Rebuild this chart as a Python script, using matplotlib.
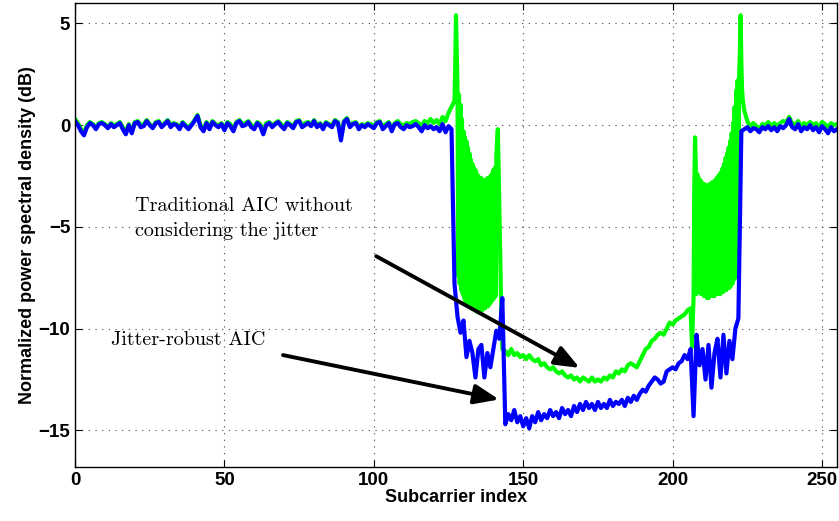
import numpy as np
import matplotlib.pyplot as plt

# blue curve: jitter-robust AIC, one value per subcarrier (0..255)
blue_left = [0.2, 0.0, -0.3, -0.5, -0.1, 0.1, 0.0, -0.2, 0.05, 0.1,
             0.0, -0.15, 0.05, -0.1, 0.0, 0.1, -0.2, -0.45, 0.0, -0.4,
             0.1, 0.15, -0.1, -0.05, 0.2, 0.0, -0.15, 0.1, 0.15, -0.1,
             0.05, 0.2, -0.1, 0.05, 0.0, -0.2, 0.1, -0.05, -0.2, 0.0,
             0.2, 0.45, -0.1, -0.3, 0.1, -0.2, 0.15, 0.0, -0.1, 0.05,
             -0.25, 0.1, -0.05, -0.3, 0.1, 0.2, -0.05, 0.0, 0.15, -0.1,
             -0.2, 0.1, -0.05, -0.45, 0.0, 0.1, -0.1, 0.05, 0.15, -0.05,
             -0.2, 0.1, 0.0, -0.15, 0.15, 0.2, -0.1, 0.0, 0.1, -0.05,
             0.2, -0.1, 0.05, -0.2, 0.1, 0.0, -0.1, 0.2, 0.1, -0.75,
             0.15, 0.3, -0.1, 0.05, 0.1, -0.2, 0.0, -0.1, 0.05, -0.05,
             -0.15, 0.1, 0.15, -0.2, -0.05, 0.1, -0.3, 0.05, 0.1, -0.1,
             -0.2, 0.0, -0.1, -0.05, 0.05, -0.1, -0.3, 0.0, -0.15, -0.05,
             -0.2, -0.1, -0.3, 0.05, -0.35, -0.05, -0.2]
blue_notch = [-7.8, -9.4, -10.2, -9.6, -11.4, -10.6, -11.2, -12.4, -11.0, -10.8,
              -12.4, -11.2, -11.9, -11.0, -10.1, -10.5, -8.5,
              -14.7, -14.2, -14.5, -14.0, -14.6, -14.3, -14.8, -14.4, -14.9, -14.3,
              -14.6, -14.1, -14.5, -14.2, -14.4, -14.0, -14.3, -14.1, -14.4, -13.9,
              -14.2, -14.0, -14.3, -13.8, -14.1, -13.7, -14.0, -13.6, -13.9, -13.7,
              -14.0,
              -13.6, -13.9, -13.7, -13.9, -13.5, -13.8, -13.6, -13.7, -13.5, -13.8,
              -13.4, -13.6, -13.3, -13.5, -13.2, -13.0, -13.1, -12.8, -12.6, -12.4,
              -12.5, -12.7, -12.6, -12.1, -12.0, -11.9, -12.0, -11.7, -11.6, -11.3,
              -11.5, -11.0,
              -14.3, -10.3, -11.8, -11.0, -12.5, -10.8, -12.9, -11.2, -10.5, -12.4,
              -10.3, -12.2, -10.6, -11.5, -10.0, -9.5, -0.3]
blue_right = [-0.2, -0.1, -0.3, -0.15, -0.2, -0.35, -0.1, -0.2, -0.05, -0.25,
              -0.1, -0.3, -0.05, -0.15, 0.0, 0.3, -0.1, -0.2, 0.05, -0.3,
              -0.1, -0.2, 0.0, -0.25, -0.1, -0.35, -0.05, -0.2, -0.4, -0.1,
              -0.3, -0.2]

# green curve: traditional AIC; the notch edges swing fast, sampled every quarter subcarrier
green_left = [0.3, 0.1, -0.2, -0.4, 0.0, 0.15, 0.05, -0.1, 0.1, 0.15,
              0.05, -0.1, 0.1, 0.0, 0.05, 0.15, -0.1, -0.35, 0.05, -0.3,
              0.15, 0.2, 0.0, 0.05, 0.25, 0.05, -0.1, 0.15, 0.2, -0.05,
              0.1, 0.25, 0.0, 0.1, 0.05, -0.1, 0.15, 0.0, -0.1, 0.05,
              0.25, 0.5, 0.0, -0.2, 0.15, -0.1, 0.2, 0.05, 0.0, 0.1,
              -0.15, 0.15, 0.05, -0.2, 0.15, 0.25, 0.05, 0.1, 0.2, 0.0,
              -0.1, 0.15, 0.05, -0.3, 0.1, 0.15, 0.0, 0.1, 0.2, 0.05,
              -0.1, 0.15, 0.05, -0.05, 0.2, 0.25, 0.0, 0.1, 0.15, 0.05,
              0.25, 0.0, 0.1, -0.1, 0.15, 0.05, 0.0, 0.25, 0.15, -0.6,
              0.2, 0.35, 0.0, 0.1, 0.15, -0.1, 0.05, 0.0, 0.1, 0.05,
              -0.05, 0.15, 0.2, -0.1, 0.05, 0.15, -0.15, 0.1, 0.2, 0.05,
              0.0, 0.1, 0.05, 0.15, 0.2, 0.1, -0.05, 0.2, 0.1, 0.3,
              0.1, 0.25, 0.05, 0.4, 0.2, 0.6, 0.9]
green_band1 = [1.2, 3.0, 5.4, 3.5, 1.9,
               -7.4, 1.5, -7.8, 1.0, -8.1, 0.3, -8.3, -0.3, -8.5, -0.6,
               -8.7, -0.8, -8.8, -1.1, -8.9, -1.4, -8.9, -1.7, -9.0, -1.9,
               -9.0, -2.1, -9.1, -2.2, -9.1, -2.4, -9.2, -2.5, -9.2, -2.6,
               -9.1, -2.6, -9.1, -2.7, -9.0, -2.7, -9.0, -2.7, -8.9, -2.6,
               -8.9, -2.6, -8.8, -2.5, -8.7, -2.4, -8.6, -2.2, -8.5, -2.1,
               -8.4,
               -1.5, -0.8, -0.2, -2.0, -4.0, -6.0, -8.0, -9.5, -11.0]
green_mid = [-11.1, -11.3, -11.0, -11.3, -11.2, -11.4, -11.3, -11.5, -11.3, -11.5,
             -11.6, -11.5, -11.8, -11.7, -11.9, -12.0, -11.9, -12.1, -12.2, -12.1,
             -12.3, -12.4, -12.3, -12.5, -12.4, -12.6, -12.4, -12.5, -12.6, -12.4,
             -12.6, -12.5, -12.6, -12.4, -12.5, -12.3, -12.4, -12.1, -12.2, -12.0,
             -12.1, -11.8, -11.7, -11.8, -11.9, -11.6, -11.3, -11.0, -10.9, -10.6,
             -10.5, -10.3, -10.2, -10.3, -10.0, -9.7, -9.8, -9.6, -9.5, -9.4,
             -9.3, -9.1, -9.0]
green_band2 = [-10.9, -9.5, -8.5, -3.0, -0.6, -2.0,
               -8.3, -2.4, -8.2, -2.6, -8.2, -2.7, -8.3, -2.8, -8.3, -2.9,
               -8.4, -2.9, -8.4, -3.0, -8.5, -3.0, -8.5, -2.9, -8.4, -2.9,
               -8.4, -2.8, -8.4, -2.8, -8.4, -2.7, -8.3, -2.6, -8.3, -2.5,
               -8.3, -2.4, -8.3, -2.3, -8.2, -2.1, -8.2, -1.9, -8.1, -1.6,
               -8.1, -1.4, -8.0, -1.1, -8.0, -0.8, -7.9, -0.4, -7.8, 0.1,
               -7.6, 0.9, -7.5, 1.7, -6.5, 2.2, -6.0,
               2.5, 3.5, 5.4, 3.0, 1.7, 1.2]
green_right = [0.7, 0.2, -0.1, 0.1, -0.05, -0.2, 0.05, 0.0, 0.15, -0.05,
               0.1, -0.05, 0.1, 0.2, 0.15, 0.4, 0.1, 0.0, 0.2, -0.05,
               0.1, 0.0, 0.15, 0.0, 0.1, -0.1, 0.15, 0.05, -0.1, 0.1,
               0.0, 0.05]

blue = np.array(blue_left + blue_notch + blue_right)
blue_x = np.arange(len(blue))

green = np.array(green_left + green_band1 + green_mid + green_band2 + green_right)
green_x = np.concatenate([
    np.arange(len(green_left)),
    127 + 0.25 * np.arange(len(green_band1)),
    144 + np.arange(len(green_mid)),
    206.5 + 0.25 * np.arange(len(green_band2)),
    224 + np.arange(len(green_right)),
])

plt.rcParams['font.family'] = ['Liberation Sans', 'DejaVu Sans']
plt.rcParams['path.simplify'] = False

fig = plt.figure(figsize=(8.39, 5.21), dpi=100)
ax = fig.add_axes([0.0894, 0.1036, 0.9082, 0.8906])

ax.plot(green_x, green, color='#00ff00', lw=3.0)
ax.plot(blue_x, blue, color='#0000ff', lw=3.0)

ax.set_xlim(0, 255)
ax.set_ylim(-16.8, 6)
ax.set_xticks([0, 50, 100, 150, 200, 250])
ax.set_yticks([-15, -10, -5, 0, 5])
ax.grid(True, color='0.25', linestyle=(0, (1, 5)), lw=0.8)
ax.tick_params(direction='in', top=True, right=True, length=5, width=0.8,
               labelsize=13.5)
for lab in ax.get_xticklabels() + ax.get_yticklabels():
    lab.set_fontweight('bold')
for sp in ax.spines.values():
    sp.set_linewidth(1.0)

ax.set_xlabel('Subcarrier index', fontsize=13, fontweight='bold', labelpad=0)
ax.set_ylabel('Normalized power spectral density (dB)', fontsize=13,
              fontweight='bold', labelpad=2)

txt = dict(family='cmr10', fontsize=14.5, ha='left', va='baseline')
ax.text(20.0, -4.23, 'Traditional AIC without', **txt)
ax.text(20.0, -5.45, 'considering the jitter', **txt)
ax.text(11.9, -10.82, 'Jitter-robust AIC', **txt)

arrow = dict(arrowstyle='-|>,head_length=0.75,head_width=0.3', color='k',
             lw=2.8, mutation_scale=20, shrinkA=0, shrinkB=0)
ax.annotate('', xy=(168.9, -11.93), xytext=(100.8, -6.44), arrowprops=arrow)
ax.annotate('', xy=(141.9, -13.48), xytext=(69.6, -11.30), arrowprops=arrow)

plt.savefig('out.png', dpi=100)
